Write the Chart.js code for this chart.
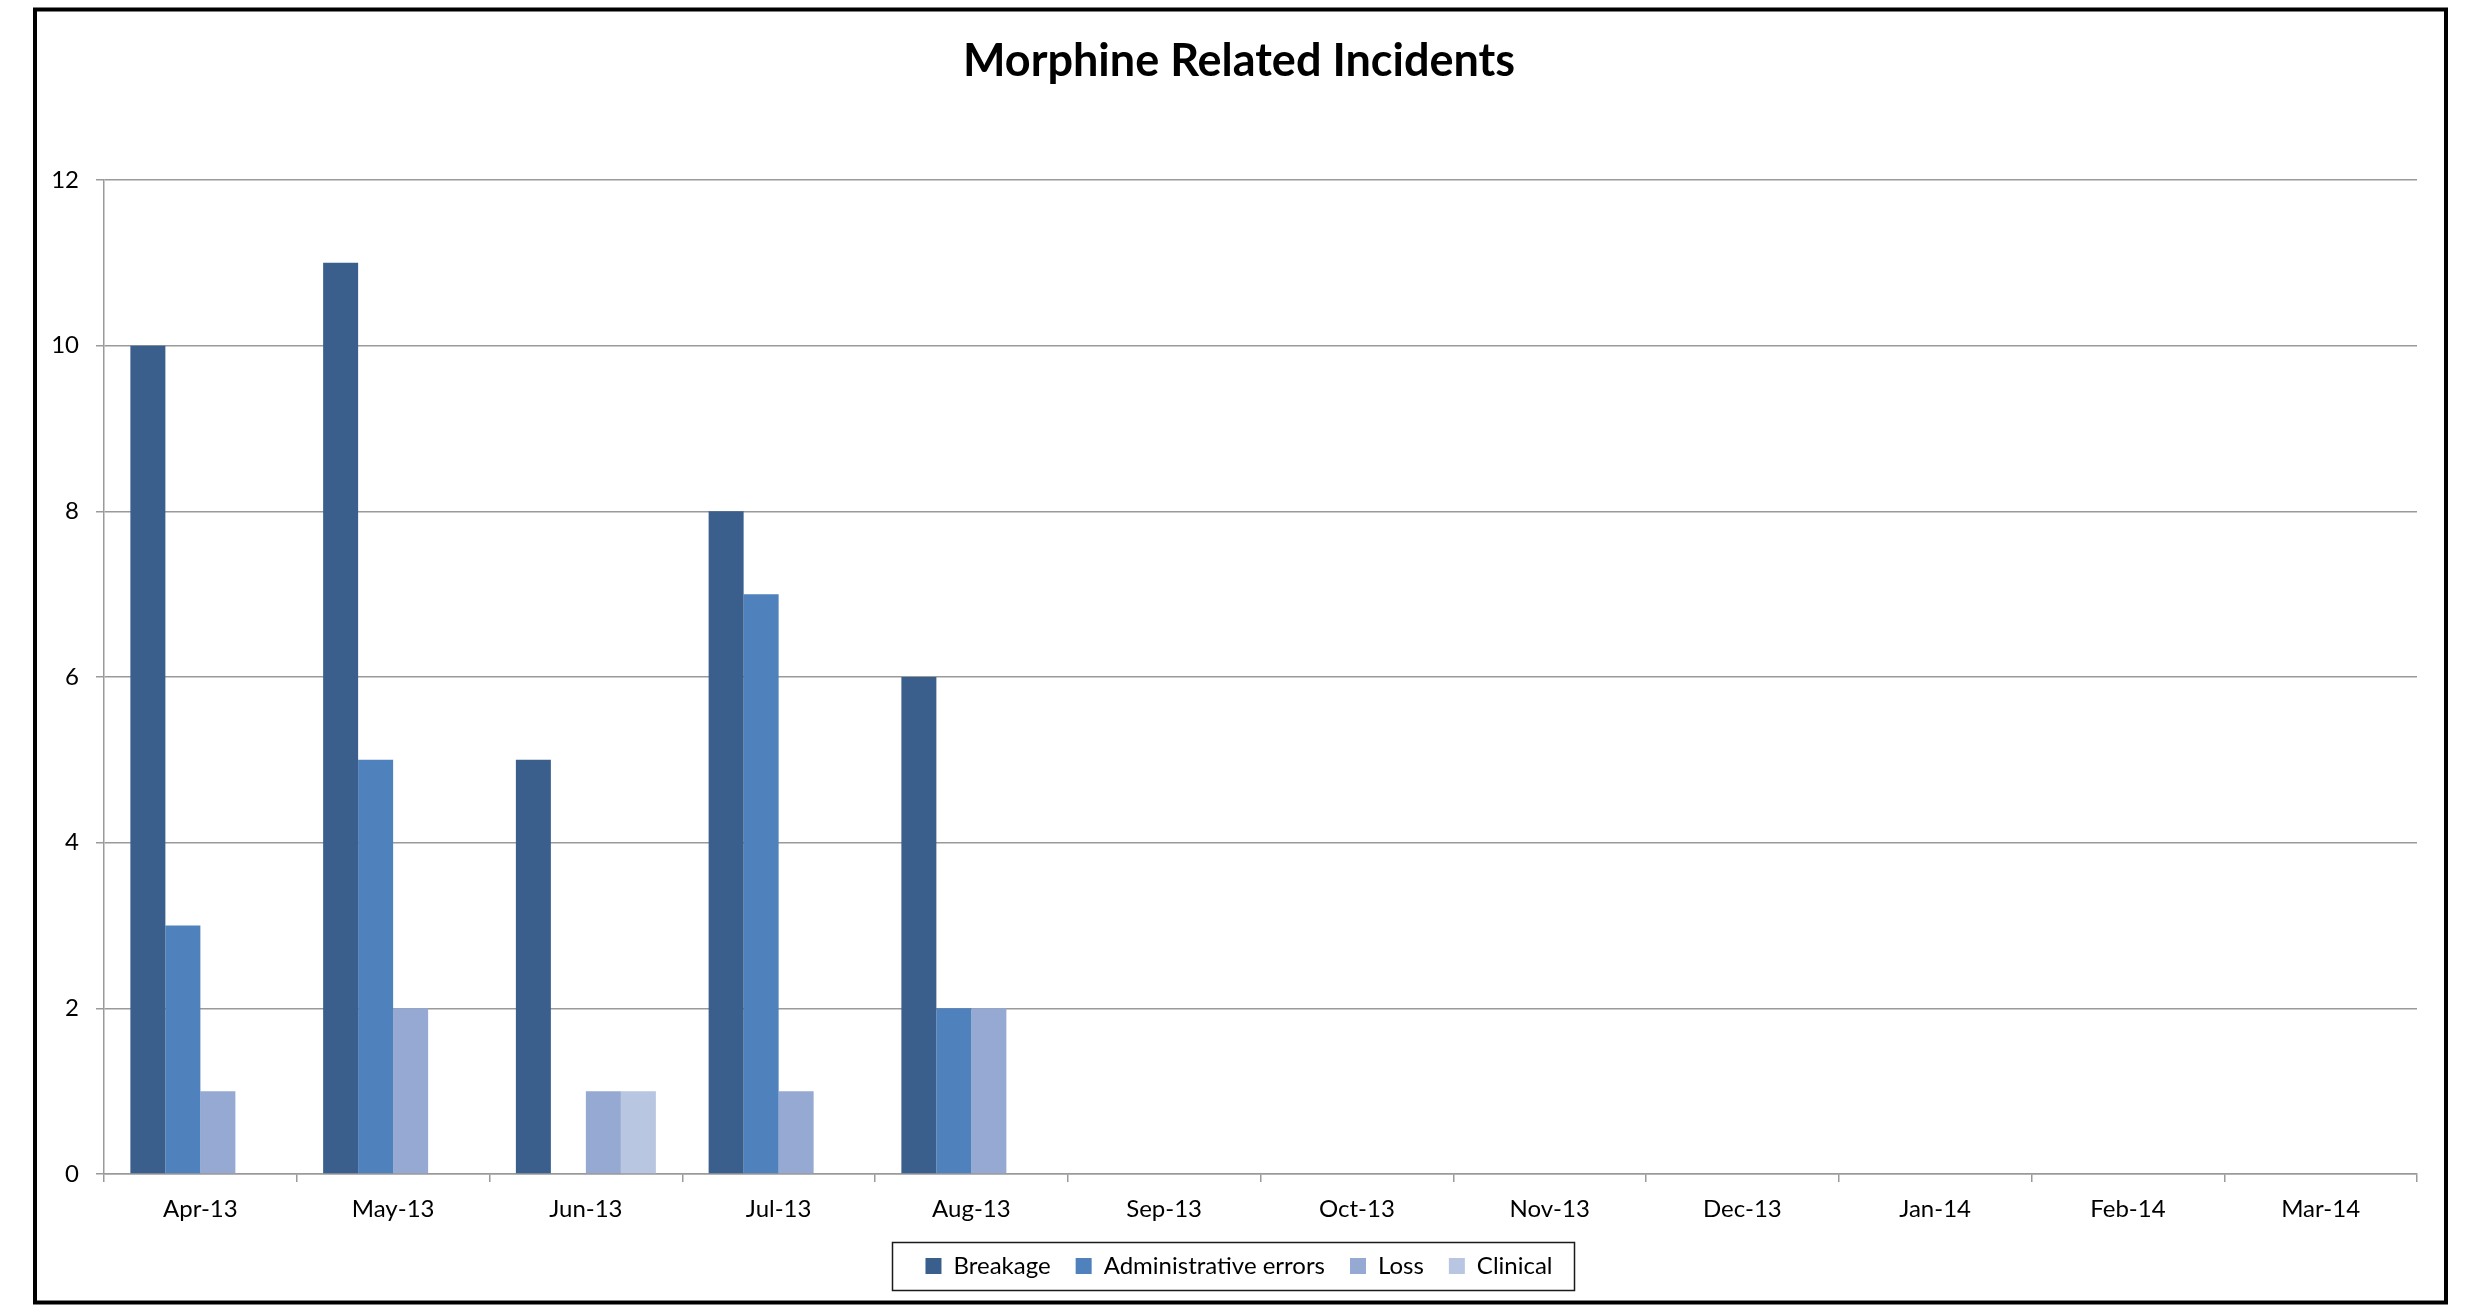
<!DOCTYPE html>
<html>
<head>
<meta charset="utf-8">
<title>Morphine Related Incidents</title>
<script src="https://cdn.jsdelivr.net/npm/chart.js@4/dist/chart.umd.min.js"></script>
<style>
  html, body { margin: 0; padding: 0; background: #ffffff; }
  #wrap { width: 2478px; height: 1306px; }
</style>
</head>
<body>
<div id="wrap"><canvas id="chart" width="2478" height="1306"></canvas></div>
<script>
// Monthly counts, financial year Apr-13 to Mar-14 (months not yet reported are null)
const months = ['Apr-13', 'May-13', 'Jun-13', 'Jul-13', 'Aug-13', 'Sep-13',
                'Oct-13', 'Nov-13', 'Dec-13', 'Jan-14', 'Feb-14', 'Mar-14'];
const breakage    = [10, 11, 5, 8, 6, null, null, null, null, null, null, null];
const adminErrors = [3, 5, 0, 7, 2, null, null, null, null, null, null, null];
const loss        = [1, 2, 1, 1, 2, null, null, null, null, null, null, null];
const clinical    = [0, 0, 1, 0, 0, null, null, null, null, null, null, null];
const seriesNames = ['Breakage', 'Administrative errors', 'Loss', 'Clinical'];
const yMin = 0, yMax = 12, yStep = 2;

const seriesColors = ['#3b5f8d', '#4f81bd', '#95a9d2', '#b9c6e1'];
const FONT = 'Lato, "Open Sans", sans-serif';

// Plot rectangle edges and outer frame
const PLOT_LEFT = 104, PLOT_RIGHT = 2417, PLOT_TOP = 180, PLOT_BOTTOM = 1174;
const PAD_BOTTOM = 18;

const framePlugin = {
  id: 'frame',
  beforeDraw(chart) {
    const ctx = chart.ctx;
    ctx.save();
    ctx.fillStyle = '#ffffff';
    ctx.fillRect(0, 0, chart.width, chart.height);
    ctx.restore();
  },
  afterDraw(chart) {
    const ctx = chart.ctx;
    ctx.save();
    // outer chart border
    ctx.strokeStyle = '#000000';
    ctx.lineWidth = 4;
    ctx.strokeRect(35, 9.5, 2411, 1293);
    // box around the legend
    const hb = chart.legend.legendHitBoxes;
    if (hb && hb.length) {
      const first = hb[0], last = hb[hb.length - 1];
      const cy = first.top + first.height / 2;
      const x0 = first.left - 33;
      const x1 = last.left + last.width + 22;
      ctx.lineWidth = 1.5;
      ctx.strokeStyle = '#1a1a1a';
      ctx.strokeRect(Math.round(x0) + 0.5, Math.round(cy - 24) + 0.5, Math.round(x1 - x0), 48);
    }
    ctx.restore();
  }
};

const datasets = [breakage, adminErrors, loss, clinical].map((values, i) => ({
  label: seriesNames[i],
  data: values,
  backgroundColor: seriesColors[i],
  borderWidth: 0,
  categoryPercentage: 0.7263,
  barPercentage: 1.0
}));

new Chart(document.getElementById('chart'), {
  type: 'bar',
  data: { labels: months, datasets },
  options: {
    responsive: false,
    animation: false,
    devicePixelRatio: 1,
    layout: { padding: { left: 0, right: 0, top: 0, bottom: PAD_BOTTOM } },
    plugins: {
      tooltip: { enabled: false },
      title: {
        display: true,
        text: 'Morphine Related Incidents',
        color: '#000000',
        font: { family: FONT, size: 45, weight: 'bold', lineHeight: 1.2 },
        padding: { top: 34, bottom: PLOT_TOP - 34 - 45 * 1.2 }
      },
      legend: {
        display: true,
        position: 'bottom',
        labels: {
          color: '#000000',
          font: { family: FONT, size: 24 },
          boxWidth: 16,
          boxHeight: 16,
          padding: 25
        }
      }
    },
    scales: {
      x: {
        offset: true,
        border: { display: true, color: '#9a9a9a', width: 1.5 },
        grid: {
          display: true,
          offset: true,
          drawOnChartArea: false,
          drawTicks: true,
          tickLength: 8,
          color: '#9a9a9a',
          lineWidth: 1.5
        },
        ticks: {
          color: '#000000',
          font: { family: FONT, size: 24 },
          padding: 13,
          maxRotation: 0,
          autoSkip: false
        },
        afterFit(scale) {
          scale.height = scale.chart.height - PAD_BOTTOM - scale.chart.legend.height - PLOT_BOTTOM;
        }
      },
      y: {
        min: yMin,
        max: yMax,
        border: { display: true, color: '#9a9a9a', width: 1.5 },
        grid: {
          display: true,
          drawOnChartArea: true,
          drawTicks: true,
          tickLength: 8,
          color: '#9a9a9a',
          lineWidth: 1.5
        },
        ticks: {
          stepSize: yStep,
          color: '#000000',
          font: { family: FONT, size: 24 },
          padding: 17
        },
        afterFit(scale) {
          scale.width = PLOT_LEFT;
        }
      },
      // empty right-hand margin so the title and legend centre on the whole frame
      margin: {
        type: 'linear',
        position: 'right',
        display: true,
        min: yMin,
        max: yMax,
        border: { display: false },
        grid: { display: false },
        ticks: { display: false },
        afterFit(scale) {
          scale.width = scale.chart.width - PLOT_RIGHT;
        }
      }
    }
  },
  plugins: [framePlugin]
});
</script>
</body>
</html>
